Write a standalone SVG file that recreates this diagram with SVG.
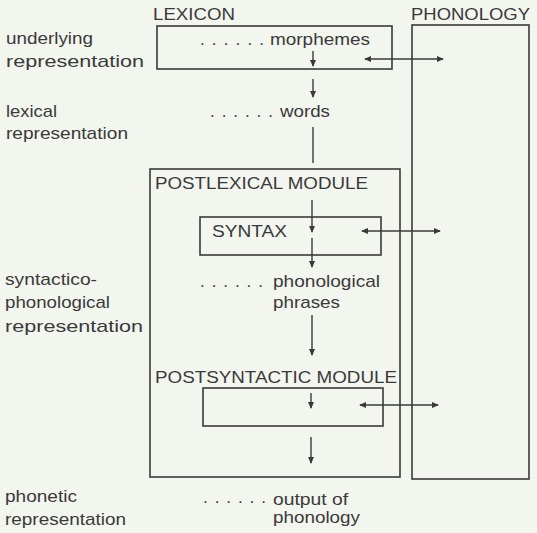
<svg xmlns="http://www.w3.org/2000/svg" width="537" height="533" viewBox="0 0 537 533">
<defs>
<style>
text{font-family:"Liberation Sans",Arial,sans-serif;font-size:17px;fill:#3a3a3a}
.box{fill:none;stroke:#3a3a3a;stroke-width:1.6}
.ln{stroke:#3a3a3a;stroke-width:1.4;fill:none}
.arr{marker-end:url(#ah)}
.dbl{marker-end:url(#ah);marker-start:url(#ah)}
</style>
<marker id="ah" markerUnits="userSpaceOnUse" markerWidth="7" markerHeight="7" refX="6" refY="3.5" orient="auto-start-reverse">
<path d="M0,0.5 L7,3.5 L0,6.5 z" fill="#3a3a3a"/>
</marker>
</defs>
<rect width="537" height="533" fill="#f3f5ef"/>

<g id="labels">
<text x="6" y="44" textLength="87" lengthAdjust="spacingAndGlyphs">underlying</text>
<text x="6" y="67" textLength="138" lengthAdjust="spacingAndGlyphs">representation</text>
<text x="6" y="117" textLength="51" lengthAdjust="spacingAndGlyphs">lexical</text>
<text x="6" y="139" textLength="122" lengthAdjust="spacingAndGlyphs">representation</text>
<text x="5" y="285" textLength="92" lengthAdjust="spacingAndGlyphs">syntactico-</text>
<text x="5" y="308" textLength="105" lengthAdjust="spacingAndGlyphs">phonological</text>
<text x="5" y="332" textLength="138" lengthAdjust="spacingAndGlyphs">representation</text>
<text x="5" y="502" textLength="72" lengthAdjust="spacingAndGlyphs">phonetic</text>
<text x="5" y="525" textLength="121" lengthAdjust="spacingAndGlyphs">representation</text>
</g>

<g id="lexicon">
<text x="153" y="20" textLength="82" lengthAdjust="spacingAndGlyphs">LEXICON</text>
<rect class="box" x="157" y="26" width="235" height="43"/>
<text x="200" y="45" textLength="64" lengthAdjust="spacing">......</text>
<text x="270" y="45" textLength="100" lengthAdjust="spacingAndGlyphs">morphemes</text>
</g>

<g id="phonology">
<text x="411" y="20" textLength="119" lengthAdjust="spacingAndGlyphs">PHONOLOGY</text>
<rect class="box" x="412" y="25" width="117" height="454"/>
</g>

<g id="words">
<text x="210" y="117" textLength="63" lengthAdjust="spacing">......</text>
<text x="280" y="117" textLength="50" lengthAdjust="spacingAndGlyphs">words</text>
</g>

<g id="postlexical">
<rect class="box" x="150" y="169" width="250" height="308"/>
<text x="155" y="189" textLength="213" lengthAdjust="spacingAndGlyphs">POSTLEXICAL MODULE</text>
</g>

<g id="syntax">
<rect class="box" x="200" y="217" width="181" height="38"/>
<text x="212" y="237" textLength="75" lengthAdjust="spacingAndGlyphs">SYNTAX</text>
</g>

<g id="phrases">
<text x="200" y="287" textLength="63" lengthAdjust="spacing">......</text>
<text x="273" y="287" textLength="107" lengthAdjust="spacingAndGlyphs">phonological</text>
<text x="273" y="308" textLength="67" lengthAdjust="spacingAndGlyphs">phrases</text>
</g>

<g id="postsyntactic">
<text x="155" y="383" textLength="242" lengthAdjust="spacingAndGlyphs">POSTSYNTACTIC MODULE</text>
<rect class="box" x="203" y="388" width="180" height="38"/>
</g>

<g id="output">
<text x="203" y="503" textLength="63" lengthAdjust="spacing">......</text>
<text x="273" y="505" textLength="75" lengthAdjust="spacingAndGlyphs">output of</text>
<text x="273" y="523" textLength="87" lengthAdjust="spacingAndGlyphs">phonology</text>
</g>

<g id="connectors">
<line class="ln arr" x1="313" y1="51" x2="313" y2="66"/>
<line class="ln arr" x1="313" y1="79" x2="313" y2="97"/>
<line class="ln" x1="313" y1="127" x2="313" y2="163"/>
<line class="ln arr" x1="312" y1="200" x2="312" y2="232"/>
<line class="ln arr" x1="312" y1="238" x2="312" y2="267"/>
<line class="ln arr" x1="312" y1="315" x2="312" y2="355"/>
<line class="ln arr" x1="311" y1="393" x2="311" y2="408"/>
<line class="ln arr" x1="311" y1="437" x2="311" y2="463"/>
<line class="ln dbl" x1="365" y1="59" x2="443" y2="59"/>
<line class="ln dbl" x1="362" y1="231" x2="440" y2="231"/>
<line class="ln dbl" x1="360" y1="405" x2="438" y2="405"/>
</g>
</svg>
